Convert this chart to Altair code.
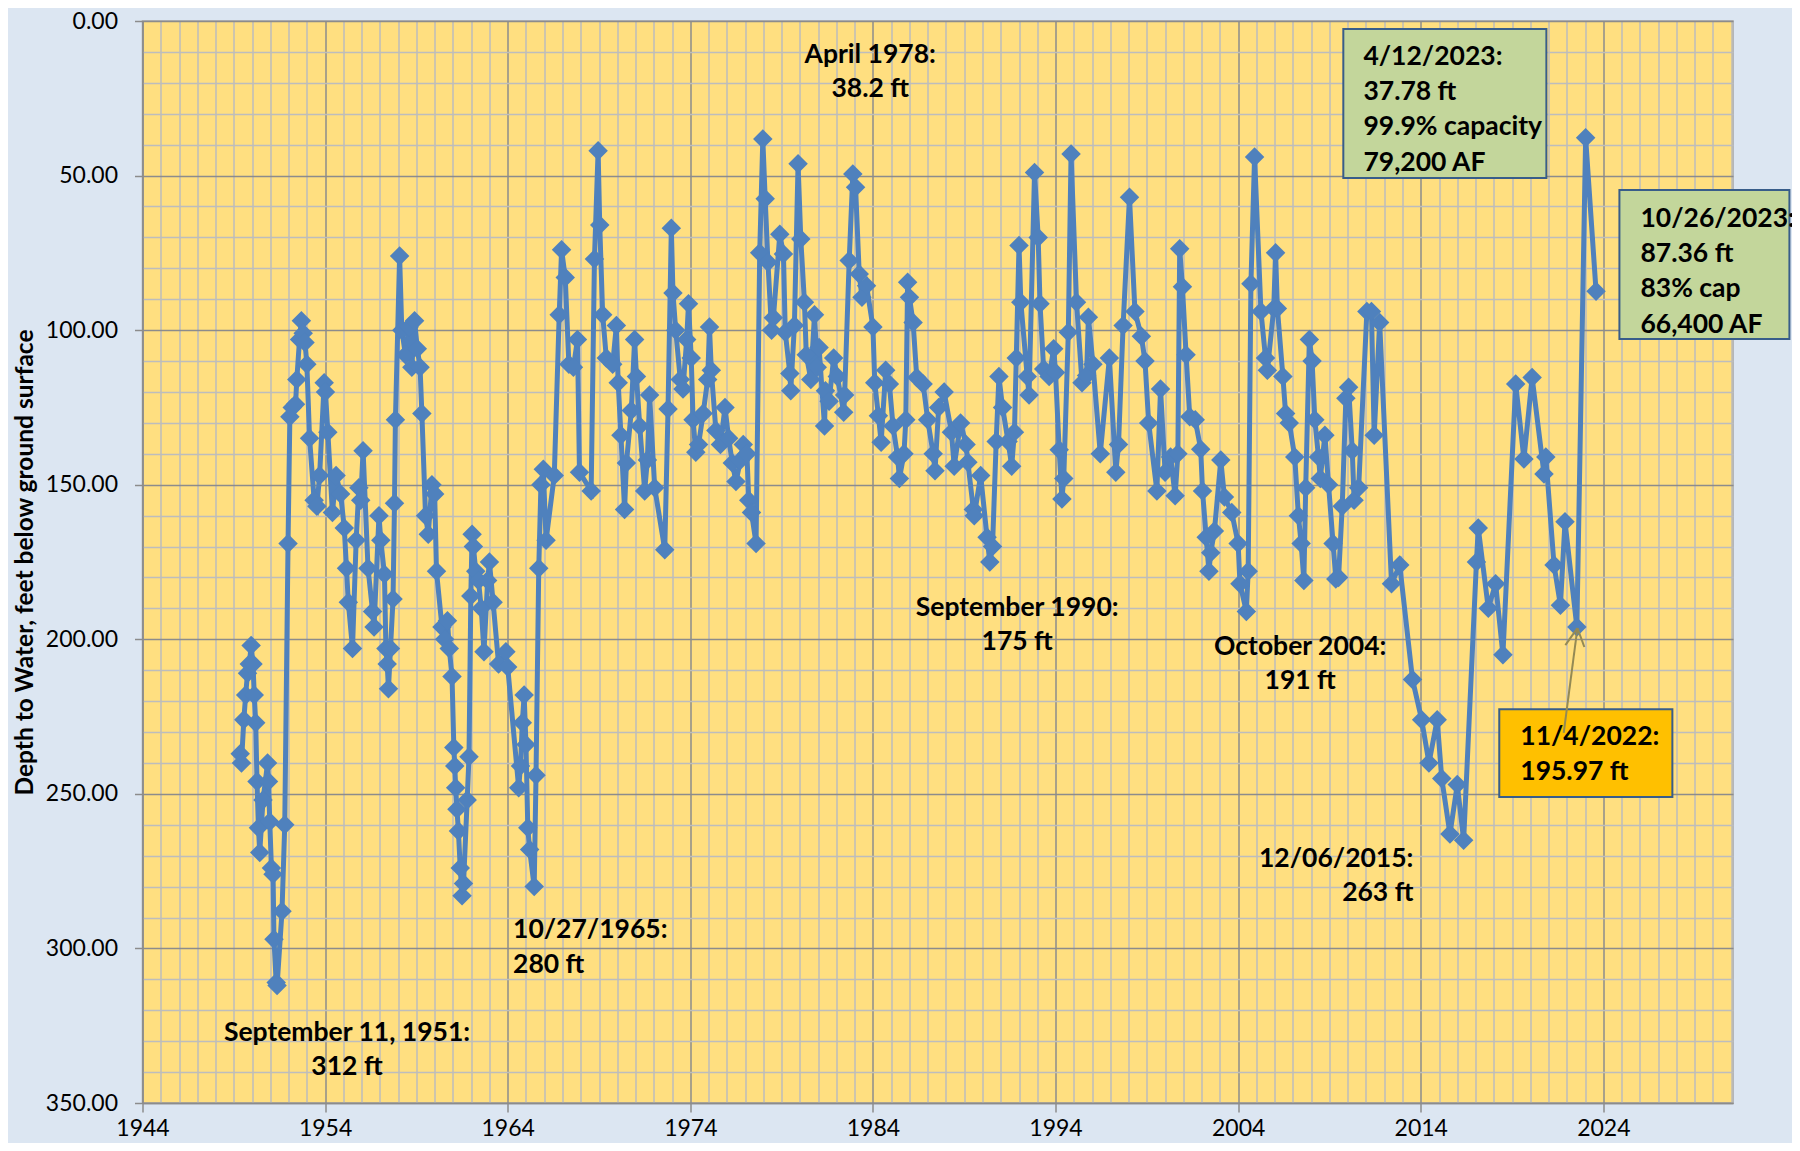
import altair as alt
import pandas as pd

# ---------------- data ----------------
years = [
    1949.35, 1949.42, 1949.55, 1949.65, 1949.75, 1949.85, 1949.95, 1950.05, 1950.12, 1950.2,
    1950.27, 1950.35, 1950.42, 1950.6, 1950.85, 1950.9, 1950.97, 1951.06, 1951.15, 1951.2,
    1951.32, 1951.37, 1951.64, 1951.79, 1951.97, 1952.07, 1952.2, 1952.38, 1952.45, 1952.6,
    1952.7, 1952.8, 1952.9, 1953.0, 1953.15, 1953.4, 1953.55, 1953.7, 1953.95, 1954.02,
    1954.15, 1954.4, 1954.6, 1954.85, 1955.05, 1955.17, 1955.27, 1955.5, 1955.7, 1955.85,
    1955.95, 1956.08, 1956.35, 1956.6, 1956.68, 1956.95, 1957.05, 1957.25, 1957.33, 1957.4,
    1957.47, 1957.58, 1957.72, 1957.8, 1957.85, 1958.08, 1958.2, 1958.4, 1958.6, 1958.75,
    1958.9, 1959.05, 1959.2, 1959.3, 1959.5, 1959.65, 1959.85, 1960.0, 1960.1, 1960.4,
    1960.55, 1960.7, 1960.8, 1960.95, 1961.05, 1961.1, 1961.15, 1961.22, 1961.3, 1961.4,
    1961.5, 1961.58, 1961.78, 1961.88, 1961.98, 1962.05, 1962.12, 1962.25, 1962.4, 1962.55,
    1962.7, 1962.9, 1963.0, 1963.2, 1963.5, 1963.9, 1964.0, 1964.6, 1964.7, 1964.8,
    1964.9, 1965.0, 1965.1, 1965.2, 1965.45, 1965.55, 1965.7, 1965.82, 1965.95, 1966.1,
    1966.55, 1966.82, 1966.95, 1967.15, 1967.35, 1967.6, 1967.82, 1967.93, 1968.57, 1968.75,
    1968.95, 1969.04, 1969.2, 1969.4, 1969.75, 1969.95, 1970.05, 1970.2, 1970.4, 1970.5,
    1970.77, 1970.95, 1971.05, 1971.23, 1971.5, 1971.65, 1971.77, 1972.05, 1972.6, 1972.78,
    1972.96, 1973.05, 1973.2, 1973.45, 1973.6, 1973.8, 1973.9, 1974.05, 1974.15, 1974.3,
    1974.45, 1974.7, 1974.95, 1975.05, 1975.15, 1975.4, 1975.65, 1975.9, 1976.1, 1976.3,
    1976.5, 1976.75, 1976.9, 1977.1, 1977.2, 1977.35, 1977.6, 1977.8, 1977.97, 1978.1,
    1978.25, 1978.45, 1978.55, 1978.9, 1979.1, 1979.2, 1979.45, 1979.5, 1979.7, 1979.9,
    1980.05, 1980.25, 1980.35, 1980.6, 1980.8, 1980.95, 1981.05, 1981.35, 1981.4, 1981.6,
    1981.85, 1982.05, 1982.4, 1982.45, 1982.7, 1982.9, 1983.05, 1983.25, 1983.4, 1983.65,
    1984.0, 1984.1, 1984.3, 1984.45, 1984.7, 1984.9, 1985.1, 1985.35, 1985.45, 1985.7,
    1985.8, 1985.9, 1986.0, 1986.2, 1986.4, 1986.75, 1987.0, 1987.3, 1987.4, 1987.6,
    1987.9, 1988.3, 1988.45, 1988.8, 1989.1, 1989.2, 1989.5, 1989.55, 1989.9, 1990.25,
    1990.4, 1990.55, 1990.75, 1990.9, 1991.1, 1991.4, 1991.6, 1991.75, 1991.85, 1992.0,
    1992.1, 1992.45, 1992.55, 1992.85, 1993.05, 1993.15, 1993.35, 1993.65, 1993.9, 1994.0,
    1994.2, 1994.35, 1994.45, 1994.7, 1994.85, 1995.15, 1995.45, 1995.7, 1995.8, 1996.05,
    1996.45, 1996.95, 1997.3, 1997.45, 1997.7, 1998.05, 1998.35, 1998.7, 1998.9, 1999.1,
    1999.55, 1999.75, 2000.0, 2000.3, 2000.55, 2000.7, 2000.8, 2000.95, 2001.15, 2001.35,
    2001.65, 2001.95, 2002.05, 2002.25, 2002.4, 2002.5, 2002.7, 2003.05, 2003.25, 2003.65,
    2004.0, 2004.1, 2004.45, 2004.55, 2004.7, 2004.9, 2005.25, 2005.5, 2005.6, 2005.95,
    2006.05, 2006.15, 2006.45, 2006.6, 2006.8, 2007.1, 2007.3, 2007.45, 2007.6, 2007.7,
    2007.9, 2008.05, 2008.2, 2008.4, 2008.5, 2008.75, 2008.95, 2009.2, 2009.35, 2009.5,
    2009.7, 2009.9, 2010.05, 2010.25, 2010.35, 2010.6, 2011.05, 2011.3, 2011.45, 2011.75,
    2012.4, 2012.85, 2013.55, 2014.05, 2014.45, 2014.9, 2015.15, 2015.6, 2016.0, 2016.35,
    2017.05, 2017.15, 2017.7, 2018.1, 2018.5, 2019.2, 2019.65, 2020.1, 2020.75, 2020.85,
    2021.3, 2021.65, 2021.9, 2022.55, 2023.03, 2023.6,
]
depth = [
    237, 240, 226, 218, 211, 208, 202, 208, 218, 227,
    246, 261, 269, 252, 240, 246, 259, 274, 276, 297,
    311, 312, 288, 260, 169, 128, 125, 124, 116, 103,
    97, 101, 104, 111, 135, 155, 157, 147, 117, 120,
    133, 159, 147, 153, 164, 177, 188, 203, 168, 151,
    155, 139, 177, 191, 196, 160, 168, 179, 203, 208,
    216, 203, 187, 156, 129, 76, 100, 108, 99, 112,
    97, 106, 112, 127, 160, 166, 150, 153, 178, 196,
    200, 194, 203, 212, 235, 241, 248, 255, 262, 274,
    283, 279, 252, 238, 186, 166, 170, 178, 181, 190,
    204, 181, 175, 188, 208, 204, 209, 248, 241, 227,
    218, 234, 261, 268, 280, 244, 177, 150, 145, 168,
    147, 95, 74, 83, 111, 112, 103, 146, 152, 77,
    42, 66, 95, 109, 111, 98.5, 117, 134, 158, 143,
    126, 103, 115, 131, 152, 142, 121, 151, 171, 125.5,
    67, 88, 100, 116, 119, 103, 91.5, 109, 129, 139.5,
    137, 127, 116, 99, 113, 132.5, 137, 125, 135, 143,
    149, 142, 137, 140, 155, 159, 169, 75, 38.2, 57.5,
    78, 100, 96, 69, 75.4, 100.7, 114, 119.6, 98.5, 46.2,
    70.5, 91, 108, 116, 95, 112, 105.6, 131, 119.6, 123,
    109, 115, 126.6, 121, 77.5, 49.5, 53.8, 81.8, 89.4, 85.6,
    99, 117, 127.7, 136.3, 113, 117.4, 131, 141, 148, 140,
    129, 84.5, 89.4, 97.5, 115.3, 117.4, 129, 140, 145.5, 125,
    120, 133, 144, 130, 137, 142.7, 158, 160, 147, 167,
    175, 170, 136, 115, 125, 136, 144, 133, 109, 72.6,
    91, 115, 121, 49, 70, 91.5, 112.6, 115, 106, 113.7,
    138.7, 154.6, 148, 100.7, 43, 91, 117, 114.7, 95.8, 111,
    140, 109, 146, 137, 98.5, 57, 94, 102, 110, 130,
    152, 119, 146, 141, 153.6, 140, 73.7, 86, 108, 128,
    129, 138.5, 152, 167, 178, 172, 165, 142, 154, 159,
    169, 182, 191, 178, 85, 44, 94, 109, 113, 93,
    75, 93, 115, 127, 130, 141, 160, 169, 181, 151,
    103, 110, 129, 141, 148, 134, 150, 169, 180.5, 180,
    157, 122, 118.5, 139, 155, 151, 94, 94, 134, 97.5,
    182, 176, 213, 226, 240, 226, 245, 263, 247, 265,
    175, 164, 190, 182, 205, 117.4, 141.7, 115.3, 146.5, 141,
    176, 189, 162, 196, 37.8, 87.4,
]

x_ticks = list(range(1944, 2032))      # one gridline per year, labels every 10
y_ticks = list(range(0, 351, 10))      # one gridline per 10 ft, labels every 50

# annotations (text lines, anchor year, anchor depth of first baseline)
ann_center_text = [["September 11, 1951:", "312 ft"], ["April 1978:", "38.2 ft"],
                   ["September 1990:", "175 ft"], ["October 2004:", "191 ft"]]
ann_center_x = [1955.20, 1983.85, 1991.90, 2007.40]
ann_center_y = [329.9, 13.6, 192.6, 205.2]

ann_left_text = [["10/27/1965:", "280 ft"],
                 ["4/12/2023:", "37.78 ft", "99.9% capacity", "79,200 AF"],
                 ["10/26/2023:", "87.36 ft", "83% cap", "66,400 AF"],
                 ["11/4/2022:", "195.97 ft"]]
ann_left_x = [1964.29, 2010.86, 2026.03, 2019.45]
ann_left_y = [296.6, 14.2, 66.6, 234.2]

ann_right_text = [["12/06/2015:", "263 ft"]]
ann_right_x = [2013.60]
ann_right_y = [273.7]

box_x = [2009.76, 2024.88, 2018.30]
box_x2 = [2020.88, 2034.19, 2027.78]
box_y = [2.6, 54.7, 222.6]
box_y2 = [50.8, 102.9, 251.0]
box_fill = ["#C3D69B", "#C3D69B", "#FFC000"]

arrow_x = [2021.83, 2021.92, 2022.96]
arrow_y = [230.3, 201.9, 202.5]
arrow_x2 = [2022.58, 2022.58, 2022.58]
arrow_y2 = [196.4, 196.4, 196.4]

# ---------------- chart ----------------
MAJOR = "#8C8C8C"
MINOR = "#BDBDBD"
FONT = "Lato"

series = pd.DataFrame({"year": years, "ft": depth})

xs = alt.Scale(domain=[1944, 2031.1], nice=False, zero=False)
ys = alt.Scale(domain=[0, 350], nice=False, reverse=True)

x_axis = alt.Axis(
    values=x_ticks, format="d",
    labelExpr="datum.value % 10 == 4 ? datum.label : ''",
    labelOverlap=False, labelFlush=False,
    grid=True,
    gridColor={"condition": {"test": "datum.value % 10 == 4", "value": MAJOR}, "value": MINOR},
    gridWidth=1.5,
    tickOpacity={"condition": {"test": "datum.value % 10 == 4", "value": 1}, "value": 0},
    tickSize=9, tickColor=MAJOR, tickWidth=1.5,
    domainColor=MAJOR, domainWidth=1.5,
    labelFont=FONT, labelFontSize=23, labelColor="#000000", labelPadding=5,
    title=None,
)
y_axis = alt.Axis(
    values=y_ticks,
    labelExpr="datum.value % 50 == 0 ? format(datum.value, '.2f') : ''",
    labelOverlap=False, labelFlush=False,
    grid=True,
    gridColor={"condition": {"test": "datum.value % 50 == 0", "value": MAJOR}, "value": MINOR},
    gridWidth=1.5,
    tickOpacity={"condition": {"test": "datum.value % 50 == 0", "value": 1}, "value": 0},
    tickSize=8, tickColor=MAJOR, tickWidth=1.5,
    domainColor=MAJOR, domainWidth=1.5,
    labelFont=FONT, labelFontSize=23, labelColor="#000000", labelPadding=17,
    title="Depth to Water, feet below ground surface",
    titleFont=FONT, titleFontSize=24.5, titleFontWeight="bold", titleColor="#000000",
    titleAngle=270, titleAlign="center", titleBaseline="middle",
    titleX=-117, titleY=541,
)

X = alt.X("year:Q", scale=xs, axis=x_axis)
Y = alt.Y("ft:Q", scale=ys, axis=y_axis)

line = alt.Chart(series).mark_line(color="#4F81BD", strokeWidth=5).encode(x=X, y=Y)
pts = alt.Chart(series).mark_point(shape="diamond", filled=True, size=380,
                                   color="#4F81BD", opacity=1).encode(x=X, y=Y)

boxes_df = pd.DataFrame({"year": box_x, "year2": box_x2, "ft": box_y, "ft2": box_y2, "fill": box_fill})
boxes = alt.Chart(boxes_df).mark_rect(stroke="#385D8A", strokeWidth=2).encode(
    x=X, x2="year2:Q", y=Y, y2="ft2:Q",
    fill=alt.Fill("fill:N", scale=None),
)

arrow_df = pd.DataFrame({"year": arrow_x, "ft": arrow_y, "year2": arrow_x2, "ft2": arrow_y2})
arrow = alt.Chart(arrow_df).mark_rule(color="#948A54", strokeWidth=2).encode(
    x=X, y=Y, x2="year2:Q", y2="ft2:Q")


def text_layer(texts, xs_, ys_, align, lh):
    df = pd.DataFrame({"year": xs_, "ft": ys_, "t": texts})
    return alt.Chart(df).mark_text(
        align=align, baseline="alphabetic", font=FONT, fontSize=26.5,
        fontWeight="bold", color="#000000", lineHeight=lh,
    ).encode(x=X, y=Y, text="t:N")


t_center = text_layer(ann_center_text, ann_center_x, ann_center_y, "center", 34)
t_left = text_layer(ann_left_text, ann_left_x, ann_left_y, "left", 35.3)
t_right = text_layer(ann_right_text, ann_right_x, ann_right_y, "right", 34)

chart = alt.layer(line, pts, boxes, arrow, t_center, t_left, t_right).properties(
    width=1590.5, height=1082,
    padding={"left": 134.5, "top": 13, "right": 59, "bottom": 40},
    autosize=alt.AutoSizeParams(type="none"),
    background="#DCE6F2",
).configure_view(fill="#FFDF80", stroke="#A6A6A6", strokeWidth=1.5)

chart.save("out.html", embed_options={"renderer": "svg", "actions": False})
